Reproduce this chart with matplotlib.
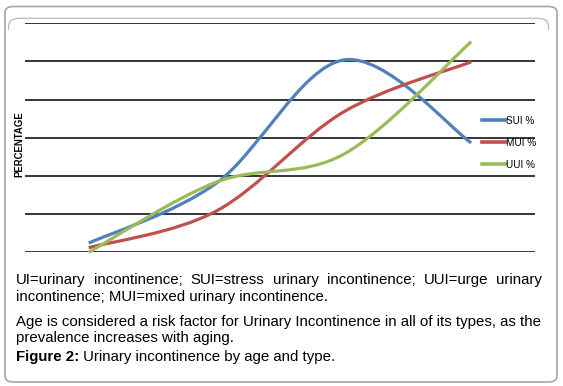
import numpy as np
import matplotlib
matplotlib.use("Agg")
import matplotlib.pyplot as plt
from matplotlib.path import Path
from matplotlib.patches import PathPatch, FancyBboxPatch, Rectangle

# Data (units = one gridline step)
age_groups = ["1", "2", "3", "4"]
sui = [0.24, 1.81, 5.04, 2.87]
mui = [0.12, 1.08, 3.68, 4.99]
uui = [0.00, 1.84, 2.57, 5.52]
series_names = ["SUI %", "MUI %", "UUI %"]
colors = ["#4F81BD", "#C0504D", "#9BBB59"]

caption1 = "UI=urinary incontinence; SUI=stress urinary incontinence; UUI=urge urinary"
caption2 = "incontinence; MUI=mixed urinary incontinence."
caption3 = "Age is considered a risk factor for Urinary Incontinence in all of its types, as the"
caption4 = "prevalence increases with aging."
fig_label = "Figure 2:"
fig_title = " Urinary incontinence by age and type."

W, H = 563, 386
plt.rcParams['font.family'] = ['Liberation Sans', 'DejaVu Sans']
fig = plt.figure(figsize=(W / 100, H / 100), dpi=100)


def fx(x):
    return x / W


def fy(y):
    return 1 - y / H


# outer frame
fig.add_artist(FancyBboxPatch((fx(5), fy(382)), fx(552), (382 - 6.5) / H,
                              boxstyle="round,pad=0,rounding_size=0.015",
                              transform=fig.transFigure, fc="none",
                              ec="#A6A6A6", lw=1.2, zorder=-1))
# inner chart frame (only its top shows)
inner = FancyBboxPatch((fx(8.5), fy(300)), fx(540), (300 - 18.3) / H,
                       boxstyle="round,pad=0,rounding_size=0.02",
                       transform=fig.transFigure, fc="none",
                       ec="#BFBFBF", lw=1.0, zorder=-1)
fig.add_artist(inner)
clip = Rectangle((0, fy(30)), 1, 1, transform=fig.transFigure)
inner.set_clip_path(clip)

ax = fig.add_axes([fx(25), fy(252.3), fx(510), (252.3 - 23.3) / H])
ax.set_facecolor("none")
x = np.arange(len(age_groups))


def smooth_path(xs, ys):
    pts = [np.array([a, b], dtype=float) for a, b in zip(xs, ys)]
    verts = [pts[0]]
    codes = [Path.MOVETO]
    n = len(pts)
    for i in range(n - 1):
        p0 = pts[i - 1] if i > 0 else pts[i]
        p1, p2 = pts[i], pts[i + 1]
        p3 = pts[i + 2] if i + 2 < n else p2
        verts += [p1 + (p2 - p0) / 6, p2 - (p3 - p1) / 6, p2]
        codes += [Path.CURVE4] * 3
    return Path(verts, codes)


handles = []
for vals, name, c in zip([sui, mui, uui], series_names, colors):
    patch = PathPatch(smooth_path(x, vals), fc="none", ec=c, lw=2.3,
                      clip_on=False, capstyle="butt", zorder=3)
    ax.add_patch(patch)
    h, = ax.plot([], [], color=c, lw=2.6, label=name)
    handles.append(h)

ax.set_xlim(-0.5, len(age_groups) - 0.5)
ax.set_ylim(0, 6)
ax.set_yticks(range(0, 7))
ax.yaxis.grid(True, color="black", lw=1.1)
ax.set_axisbelow(True)
ax.tick_params(left=False, bottom=False, labelleft=False, labelbottom=False)
for s in ax.spines.values():
    s.set_visible(False)

ax.legend(handles=handles, loc="upper left", frameon=False,
          bbox_to_anchor=(fx(482), fy(115.5)), bbox_transform=fig.transFigure,
          fontsize=7.2, handlelength=2.4, handletextpad=0.05,
          labelspacing=1.2, borderpad=0, borderaxespad=0)

fig.text(fx(19.5), fy(144.5), "PERCENTAGE", rotation=90, fontsize=6.9,
         fontweight="bold", ha="center", va="center")

# caption
fs = 10.8
renderer = fig.canvas.get_renderer()
left, right = 16, 542

# justified first line
words = caption1.split(" ")
tw = []
for w in words:
    t = fig.text(0, 0, w, fontsize=fs)
    tw.append(t.get_window_extent(renderer).width)
    t.remove()
gap = (right - left - sum(tw)) / (len(words) - 1)
xpos = left
for w, wd in zip(words, tw):
    fig.text(fx(xpos), fy(280), w, fontsize=fs, va="center")
    xpos += wd + gap

fig.text(fx(left), fy(296.7), caption2, fontsize=fs, va="center")
fig.text(fx(left), fy(321.7), caption3, fontsize=fs, va="center")
fig.text(fx(left), fy(338.3), caption4, fontsize=fs, va="center")
lab = fig.text(fx(left), fy(356.5), fig_label, fontsize=fs, va="center",
               fontweight="bold")
lw_ = lab.get_window_extent(renderer).width
fig.text(fx(left + lw_), fy(356.5), fig_title, fontsize=fs, va="center")

fig.savefig("out.png", dpi=100)
